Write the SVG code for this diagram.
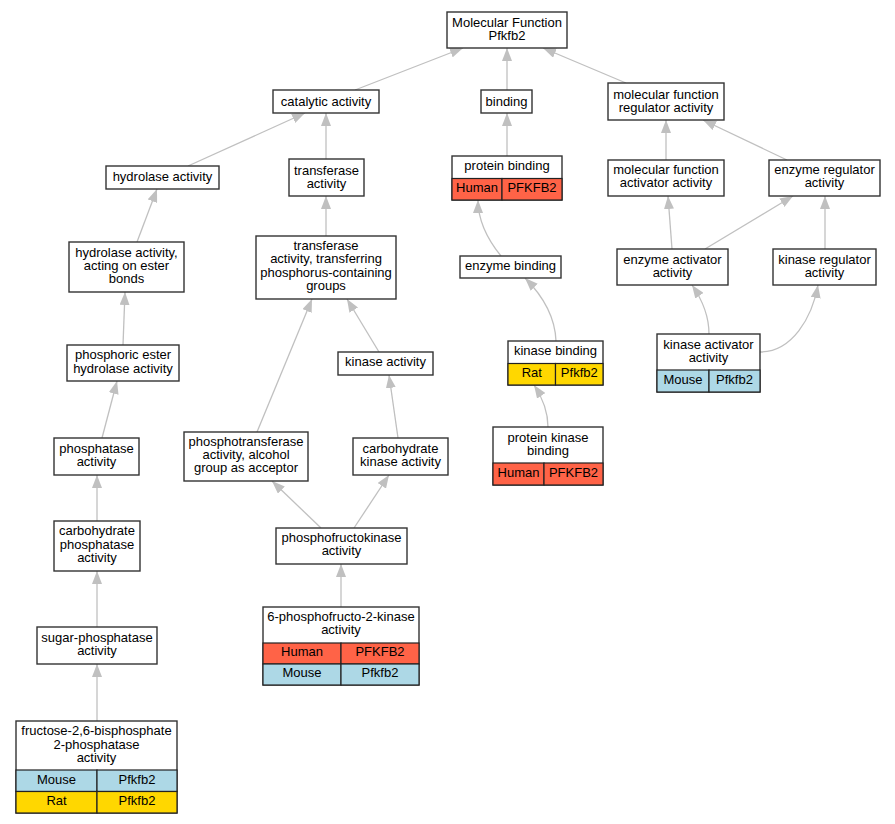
<svg xmlns="http://www.w3.org/2000/svg" width="895" height="824" viewBox="0 0 895 824">
<style>
.bg{fill:#fff}
.box{fill:#fff;stroke:#333;stroke-width:1.4}
.cell{stroke:#222;stroke-width:1.2}
.hu{fill:#ff6347}.mo{fill:#add8e6}.ra{fill:#ffd700}
.t{font-family:"Liberation Sans",Arial,sans-serif;font-size:13px;text-anchor:middle;fill:#000}
.e{stroke:#c0c0c0;stroke-width:1.3;fill:none;marker-end:url(#arr)}
</style>
<defs>
<marker id="arr" viewBox="0 0 13 10" refX="13" refY="5" markerWidth="13" markerHeight="10" markerUnits="userSpaceOnUse" orient="auto">
<path d="M0,0 L13,5 L0,10 z" fill="#c0c0c0"/>
</marker>
</defs>
<rect class="bg" x="0" y="0" width="895" height="824"/>
<g id="edges">
<path class="e" d="M355,90 L463,48"/>
<path class="e" d="M507,90 L507,48"/>
<path class="e" d="M626,83 L543,48"/>
<path class="e" d="M188,166 L305,113"/>
<path class="e" d="M326,159 L326,113"/>
<path class="e" d="M507,156 L507,113"/>
<path class="e" d="M666,160 L666,120"/>
<path class="e" d="M787,160 L703,120"/>
<path class="e" d="M137,242 L157,189"/>
<path class="e" d="M123,345 L125,292"/>
<path class="e" d="M102,438 L117,381"/>
<path class="e" d="M97,521 L97,475"/>
<path class="e" d="M97,627 L97,571"/>
<path class="e" d="M97,721 L97,664"/>
<path class="e" d="M326,236 L326,196"/>
<path class="e" d="M257,432 L312,299"/>
<path class="e" d="M379,352 L347,299"/>
<path class="e" d="M398,438 L389,375"/>
<path class="e" d="M321,528 L272,481"/>
<path class="e" d="M354,528 L389,475"/>
<path class="e" d="M341,607 L341,564"/>
<path class="e" d="M672,249 L668,196"/>
<path class="e" d="M705,249 L793,196"/>
<path class="e" d="M825,249 L825,196"/>
<path class="e" d="M501,256 C488,240 478,222 478,200"/>
<path class="e" d="M556,341 C555,315 542,295 525,278"/>
<path class="e" d="M548,427 C548,410 542,397 534,385"/>
<path class="e" d="M709,334 C709,315 701,298 692,285"/>
<path class="e" d="M760,352 C792,352 812,318 818,285"/>
</g>
<g id="n_mf"><rect class="box" x="447" y="12" width="120" height="36"/><text class="t" x="507" y="26.5">Molecular Function</text><text class="t" x="507" y="39.5">Pfkfb2</text></g>
<g id="n_catalytic"><rect class="box" x="273" y="90" width="106" height="23"/><text class="t" x="326" y="106">catalytic activity</text></g>
<g id="n_binding"><rect class="box" x="481" y="90" width="51" height="23"/><text class="t" x="506.5" y="106">binding</text></g>
<g id="n_mfra"><rect class="box" x="608" y="83" width="116" height="37"/><text class="t" x="666" y="98.5">molecular function</text><text class="t" x="666" y="111.5">regulator activity</text></g>
<g id="n_transferase"><rect class="box" x="289" y="159" width="75" height="37"/><text class="t" x="326.5" y="174.5">transferase</text><text class="t" x="326.5" y="187.5">activity</text></g>
<g id="n_protbind"><rect class="box" x="452" y="156" width="110" height="44"/><text class="t" x="507" y="170">protein binding</text>
<rect class="cell hu" x="452" y="178.5" width="50" height="21.5"/><rect class="cell hu" x="502" y="178.5" width="60" height="21.5"/>
<text class="t" x="477" y="192">Human</text><text class="t" x="532" y="192">PFKFB2</text></g>
<g id="n_mfaa"><rect class="box" x="608" y="160" width="116" height="36"/><text class="t" x="666" y="174">molecular function</text><text class="t" x="666" y="187">activator activity</text></g>
<g id="n_hydrolase"><rect class="box" x="106" y="166" width="113" height="23"/><text class="t" x="162.5" y="181">hydrolase activity</text></g>
<g id="n_hydester"><rect class="box" x="69" y="242" width="115" height="50"/><text class="t" x="126.5" y="257">hydrolase activity,</text><text class="t" x="126.5" y="270">acting on ester</text><text class="t" x="126.5" y="283">bonds</text></g>
<g id="n_trphos"><rect class="box" x="256" y="236" width="140" height="63"/><text class="t" x="326" y="250">transferase</text><text class="t" x="326" y="263">activity, transferring</text><text class="t" x="326" y="276.5">phosphorus-containing</text><text class="t" x="326" y="290">groups</text></g>
<g id="n_phosester"><rect class="box" x="67" y="345" width="112" height="36"/><text class="t" x="123" y="359">phosphoric ester</text><text class="t" x="123" y="372.5">hydrolase activity</text></g>
<g id="n_kinase"><rect class="box" x="338" y="352" width="95" height="23"/><text class="t" x="385.5" y="366">kinase activity</text></g>
<g id="n_phosphatase"><rect class="box" x="54" y="438" width="85" height="37"/><text class="t" x="96.5" y="453">phosphatase</text><text class="t" x="96.5" y="466">activity</text></g>
<g id="n_phosphotr"><rect class="box" x="184" y="432" width="124" height="49"/><text class="t" x="246" y="446">phosphotransferase</text><text class="t" x="246" y="459">activity, alcohol</text><text class="t" x="246" y="472">group as acceptor</text></g>
<g id="n_carbkin"><rect class="box" x="353" y="438" width="95" height="37"/><text class="t" x="400.5" y="453">carbohydrate</text><text class="t" x="400.5" y="466">kinase activity</text></g>
<g id="n_carbphos"><rect class="box" x="54" y="521" width="86" height="50"/><text class="t" x="97" y="535">carbohydrate</text><text class="t" x="97" y="548.5">phosphatase</text><text class="t" x="97" y="562">activity</text></g>
<g id="n_pfk"><rect class="box" x="276" y="528" width="131" height="36"/><text class="t" x="341.5" y="542">phosphofructokinase</text><text class="t" x="341.5" y="555">activity</text></g>
<g id="n_sugar"><rect class="box" x="37" y="627" width="120" height="37"/><text class="t" x="97" y="641.5">sugar-phosphatase</text><text class="t" x="97" y="655">activity</text></g>
<g id="n_6pf2k"><rect class="box" x="263" y="607" width="156" height="78"/><text class="t" x="341" y="621">6-phosphofructo-2-kinase</text><text class="t" x="341" y="634">activity</text>
<rect class="cell hu" x="263" y="643" width="78" height="21"/><rect class="cell hu" x="341" y="643" width="78" height="21"/>
<rect class="cell mo" x="263" y="664" width="78" height="21"/><rect class="cell mo" x="341" y="664" width="78" height="21"/>
<text class="t" x="302" y="656">Human</text><text class="t" x="380" y="656">PFKFB2</text>
<text class="t" x="302" y="677">Mouse</text><text class="t" x="380" y="677">Pfkfb2</text></g>
<g id="n_f26bp"><rect class="box" x="16" y="721" width="161" height="92"/><text class="t" x="96.5" y="735">fructose-2,6-bisphosphate</text><text class="t" x="96.5" y="748.5">2-phosphatase</text><text class="t" x="96.5" y="762">activity</text>
<rect class="cell mo" x="16" y="770" width="81" height="21.5"/><rect class="cell mo" x="97" y="770" width="80" height="21.5"/>
<rect class="cell ra" x="16" y="791.5" width="81" height="21.5"/><rect class="cell ra" x="97" y="791.5" width="80" height="21.5"/>
<text class="t" x="56.5" y="784">Mouse</text><text class="t" x="137" y="784">Pfkfb2</text>
<text class="t" x="56.5" y="805">Rat</text><text class="t" x="137" y="805">Pfkfb2</text></g>
<g id="n_enzbind"><rect class="box" x="460" y="256" width="101" height="22"/><text class="t" x="510.5" y="270">enzyme binding</text></g>
<g id="n_enzreg"><rect class="box" x="769" y="160" width="111" height="36"/><text class="t" x="824.5" y="174">enzyme regulator</text><text class="t" x="824.5" y="187">activity</text></g>
<g id="n_enzact"><rect class="box" x="617" y="249" width="111" height="36"/><text class="t" x="672.5" y="263.5">enzyme activator</text><text class="t" x="672.5" y="277">activity</text></g>
<g id="n_kinreg"><rect class="box" x="773" y="249" width="103" height="36"/><text class="t" x="824.5" y="263.5">kinase regulator</text><text class="t" x="824.5" y="277">activity</text></g>
<g id="n_kinbind"><rect class="box" x="508" y="341" width="95" height="44"/><text class="t" x="555.5" y="355">kinase binding</text>
<rect class="cell ra" x="508" y="363.5" width="47.5" height="21.5"/><rect class="cell ra" x="555.5" y="363.5" width="47.5" height="21.5"/>
<text class="t" x="531.8" y="377">Rat</text><text class="t" x="579.3" y="377">Pfkfb2</text></g>
<g id="n_kinact"><rect class="box" x="657" y="334" width="103" height="58"/><text class="t" x="708.5" y="348.5">kinase activator</text><text class="t" x="708.5" y="362">activity</text>
<rect class="cell mo" x="657" y="370" width="52" height="22"/><rect class="cell mo" x="709" y="370" width="51" height="22"/>
<text class="t" x="683" y="384">Mouse</text><text class="t" x="734.5" y="384">Pfkfb2</text></g>
<g id="n_protkinbind"><rect class="box" x="493" y="427" width="110" height="58"/><text class="t" x="548" y="441.5">protein kinase</text><text class="t" x="548" y="455">binding</text>
<rect class="cell hu" x="493" y="463" width="51" height="22"/><rect class="cell hu" x="544" y="463" width="59" height="22"/>
<text class="t" x="518.5" y="477">Human</text><text class="t" x="573.5" y="477">PFKFB2</text></g>
</svg>
